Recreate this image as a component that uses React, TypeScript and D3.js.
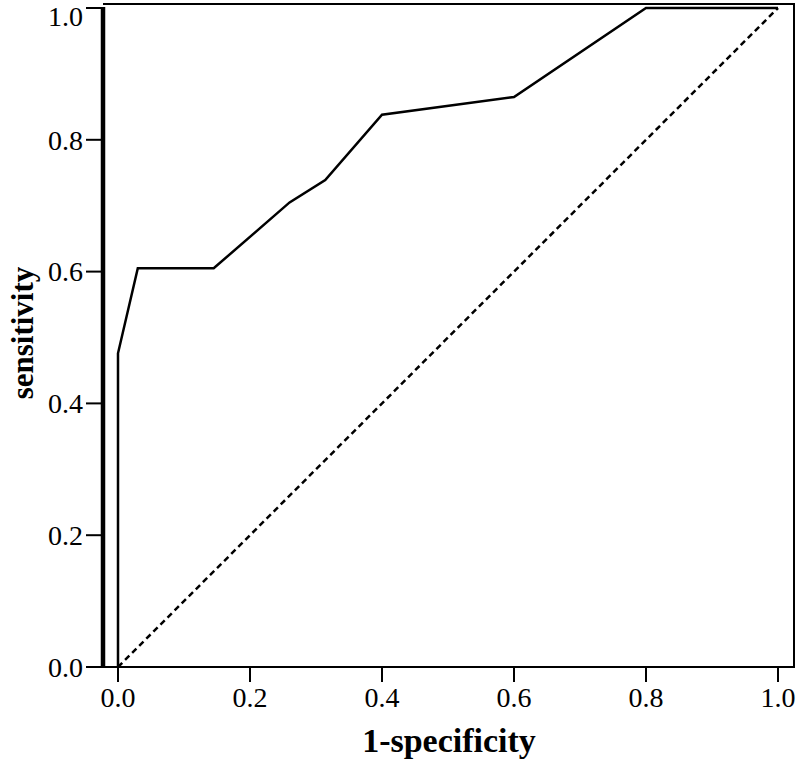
import React, { useEffect, useRef } from 'react';
import * as d3 from 'd3';

// ROC curve
const fpr = [0, 0, 0.03, 0.145, 0.26, 0.314, 0.4, 0.6, 0.8, 1.0];
const tpr = [0, 0.476, 0.605, 0.605, 0.705, 0.739, 0.838, 0.865, 1.0, 1.0];
const tickValues = [0, 0.2, 0.4, 0.6, 0.8, 1.0];
const xLabel = '1-specificity';
const yLabel = 'sensitivity';

const W = 800;
const H = 763;

const App = () => {
    const ref = useRef<SVGSVGElement>(null);

    useEffect(() => {
        const svg = d3.select(ref.current);
        svg.selectAll('*').remove();

        const x = d3.scaleLinear().domain([0, 1]).range([118, 778]);
        const y = d3.scaleLinear().domain([0, 1]).range([667, 8]);

        const left = 103, right = 794, top = 4, bottom = 667;
        const font = "'Liberation Serif', 'Times New Roman', serif";

        // frame
        svg.append('line')
            .attr('x1', left).attr('x2', right)
            .attr('y1', top).attr('y2', top)
            .attr('stroke', '#000').attr('stroke-width', 2);
        svg.append('line')
            .attr('x1', right).attr('x2', right)
            .attr('y1', top - 1).attr('y2', bottom + 1)
            .attr('stroke', '#000').attr('stroke-width', 2);

        // x axis
        svg.append('line')
            .attr('x1', 86).attr('x2', right + 1)
            .attr('y1', bottom).attr('y2', bottom)
            .attr('stroke', '#000').attr('stroke-width', 2);
        const xt = svg.selectAll('.xt').data(tickValues).join('g').attr('class', 'xt');
        xt.append('line')
            .attr('x1', d => x(d)).attr('x2', d => x(d))
            .attr('y1', bottom).attr('y2', bottom + 15)
            .attr('stroke', '#000').attr('stroke-width', 2);
        xt.append('text')
            .attr('x', d => x(d)).attr('y', 707)
            .attr('text-anchor', 'middle')
            .attr('font-family', font).attr('font-size', 28)
            .text(d => d3.format('.1f')(d));

        // y axis
        const yt = svg.selectAll('.yt').data(tickValues).join('g').attr('class', 'yt');
        yt.append('line')
            .attr('x1', 86).attr('x2', left)
            .attr('y1', d => y(d)).attr('y2', d => y(d))
            .attr('stroke', '#000').attr('stroke-width', 2);
        yt.append('text')
            .attr('x', 83).attr('y', d => Math.max(y(d), 16))
            .attr('dy', '0.35em')
            .attr('text-anchor', 'end')
            .attr('font-family', font).attr('font-size', 28)
            .text(d => d3.format('.1f')(d));
        svg.append('line')
            .attr('x1', left).attr('x2', left)
            .attr('y1', y(1) - 1).attr('y2', bottom + 1)
            .attr('stroke', '#000').attr('stroke-width', 4.5);

        // reference diagonal
        svg.append('line')
            .attr('x1', x(0)).attr('y1', y(0))
            .attr('x2', x(1)).attr('y2', y(1))
            .attr('stroke', '#000').attr('stroke-width', 2.5)
            .attr('stroke-dasharray', '6 4');

        // ROC curve
        const pts = fpr.map((f, i) => [f, tpr[i]] as [number, number]);
        const line = d3.line<[number, number]>().x(d => x(d[0])).y(d => y(d[1]));
        svg.append('path')
            .attr('d', line(pts))
            .attr('fill', 'none')
            .attr('stroke', '#000').attr('stroke-width', 2.5)
            .attr('stroke-linejoin', 'miter');

        // axis titles
        svg.append('text')
            .attr('x', 449).attr('y', 752)
            .attr('text-anchor', 'middle')
            .attr('font-family', font).attr('font-weight', 'bold').attr('font-size', 34)
            .text(xLabel);
        svg.append('text')
            .attr('transform', 'translate(33,333) rotate(-90)')
            .attr('text-anchor', 'middle')
            .attr('font-family', font).attr('font-weight', 'bold').attr('font-size', 31)
            .text(yLabel);
    }, []);

    return (
        <svg ref={ref} width={W} height={H}
            style={{ position: 'absolute', left: 0, top: 0, background: '#fff' }} />
    );
};

export default App;
